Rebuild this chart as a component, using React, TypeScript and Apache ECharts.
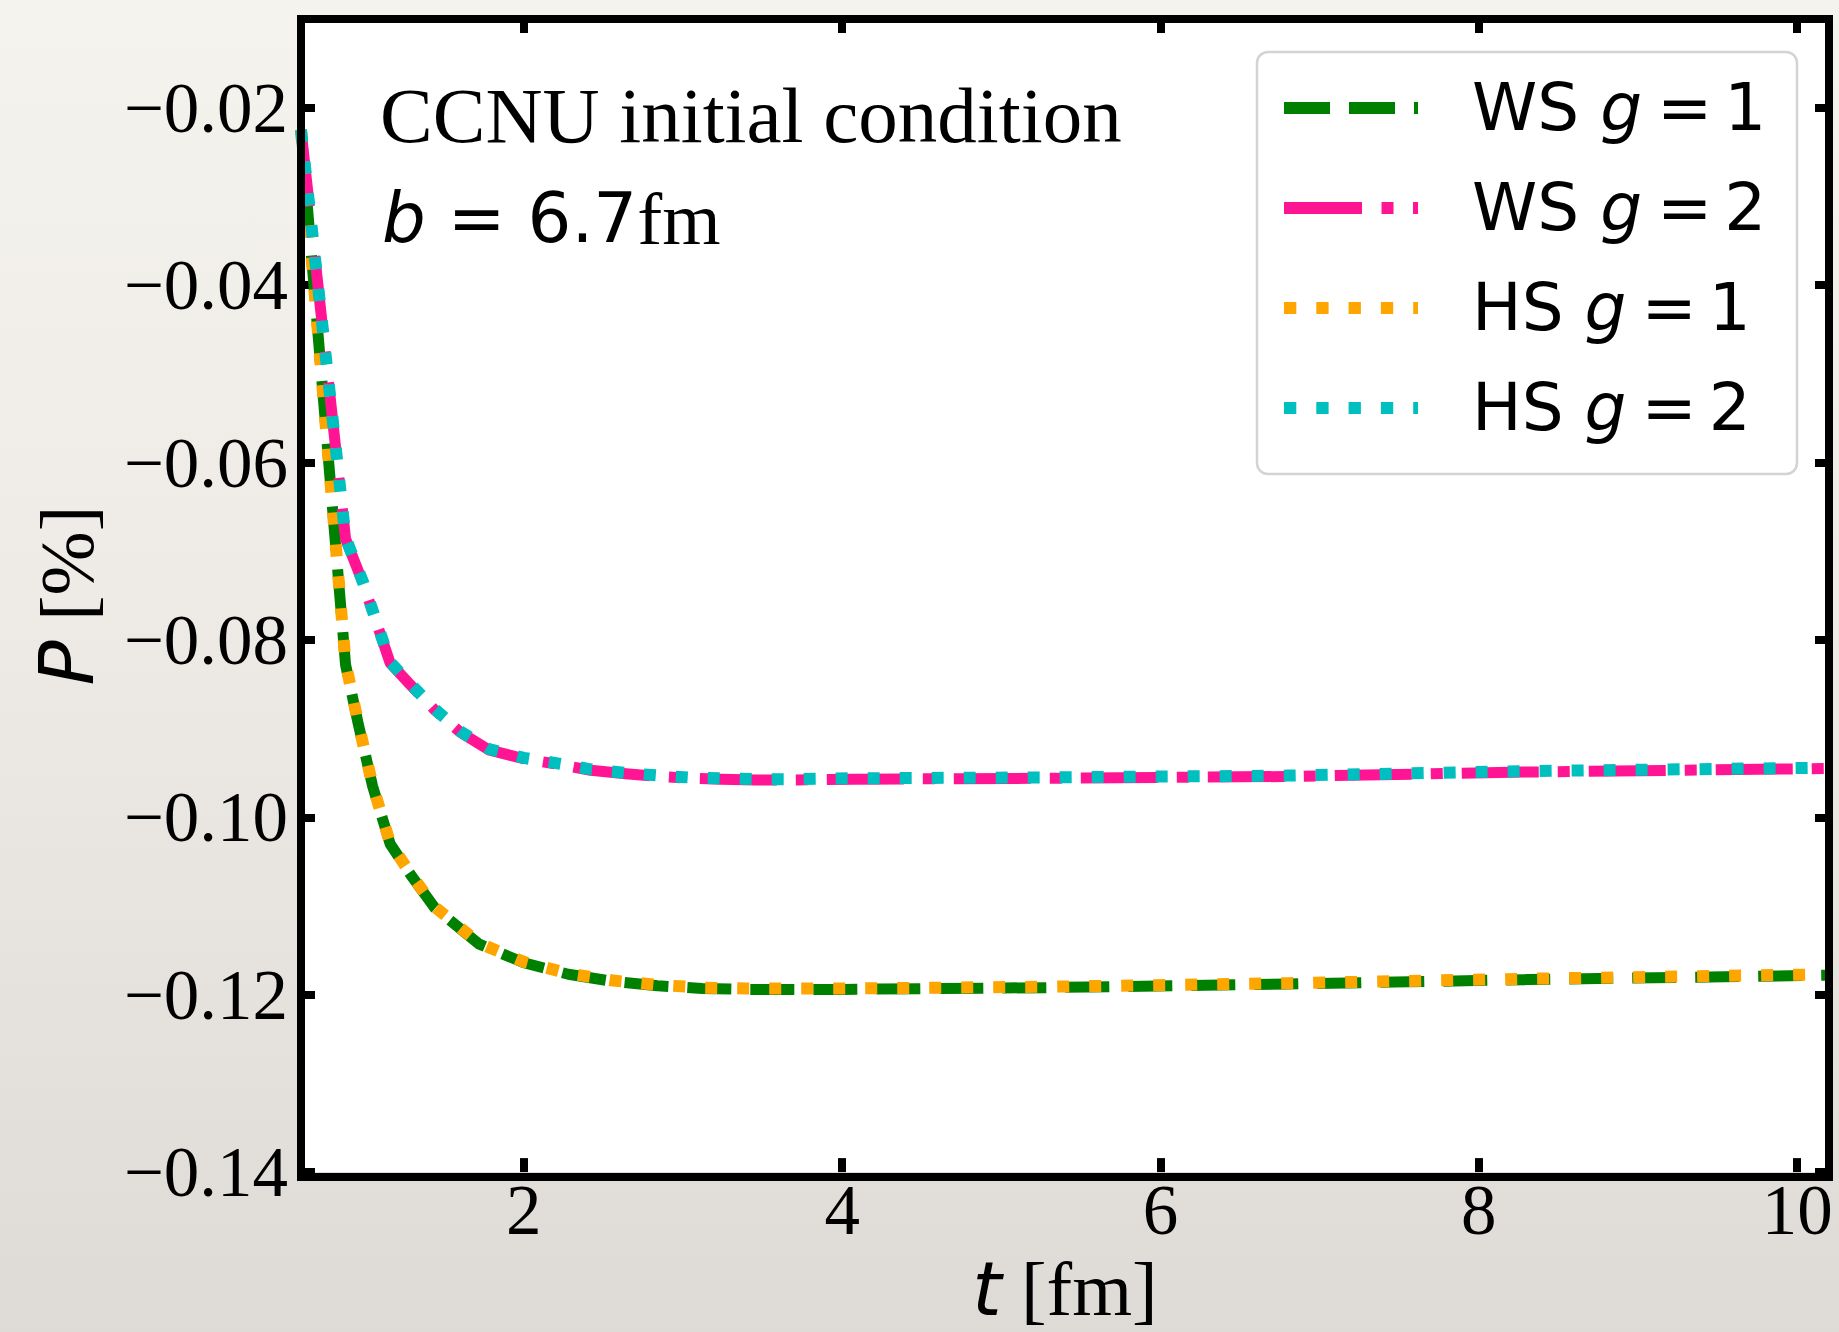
import React, { useEffect, useRef } from 'react';
import * as echarts from 'echarts';

// ---- data ----
const tG1 = [0.6, 0.88, 0.96, 1.05, 1.16, 1.29, 1.44, 1.72, 2.0, 2.28, 2.56, 2.84, 3.12, 3.4, 3.68, 4.0, 5.3, 6.8, 8.3, 10.2];
const wsG1 = [-0.0225, -0.0828, -0.0895, -0.0965, -0.103, -0.1065, -0.1102, -0.1143, -0.1164, -0.1177, -0.1185, -0.119, -0.1193, -0.1194, -0.1194, -0.1194, -0.1192, -0.1188, -0.1183, -0.1178];
const hsG1 = [-0.0225, -0.0826, -0.0894, -0.0964, -0.1029, -0.1064, -0.1101, -0.1142, -0.1163, -0.1176, -0.1184, -0.1189, -0.1192, -0.1193, -0.1193, -0.1193, -0.1191, -0.1187, -0.1182, -0.1177];

const tG2 = [0.6, 0.88, 0.99, 1.16, 1.3, 1.44, 1.6, 1.78, 2.0, 2.24, 2.42, 2.64, 2.85, 3.03, 3.24, 3.46, 3.66, 4.06, 5.33, 6.8, 8.28, 10.2];
const wsG2 = [-0.0225, -0.0686, -0.0736, -0.0826, -0.0853, -0.0879, -0.0904, -0.0924, -0.0934, -0.0941, -0.0947, -0.0951, -0.0954, -0.0956, -0.0957, -0.0958, -0.0958, -0.0957, -0.0956, -0.0954, -0.0949, -0.0945];
const hsG2 = [-0.0225, -0.0685, -0.0735, -0.0825, -0.0852, -0.0878, -0.0903, -0.0923, -0.0933, -0.094, -0.0946, -0.095, -0.0953, -0.0955, -0.0956, -0.0957, -0.0957, -0.0956, -0.0955, -0.0953, -0.0948, -0.0944];

const xTicks = [2, 4, 6, 8, 10];
const yTicks = [-0.14, -0.12, -0.1, -0.08, -0.06, -0.04, -0.02];

const seriesNames = ['WS g = 1', 'WS g = 2', 'HS g = 1', 'HS g = 2'];
const legendPrefix = ['WS', 'WS', 'HS', 'HS'];
const legendG = ['1', '2', '1', '2'];
const annotationLine1 = 'CCNU initial condition';

// ---- styles ----
const COLORS = ['#008000', '#ff1493', '#ffa500', '#00bfbf'];
const PLOT_DASH = [[44, 19], [77, 19, 12, 19], [12, 20], [12, 20]];
const PLOT_WIDTH = [11, 11, 12, 12];
const LEGEND_DASH = [[46, 19], [78, 19.5, 12, 19.5], [12.3, 20], [12.3, 20]];

const GRID = { left: 301, top: 19, width: 1528, height: 1158 };

function pairs(t: number[], v: number[]) {
  return t.map((x, i) => [x, v[i]]);
}

export default function App() {
  const ref = useRef<HTMLDivElement>(null);

  useEffect(() => {
    if (!ref.current) return;
    const chart = echarts.init(ref.current, undefined, { renderer: 'svg' });

    const seriesData = [pairs(tG1, wsG1), pairs(tG2, wsG2), pairs(tG1, hsG1), pairs(tG2, hsG2)];

    const tickStyle = { show: true, inside: true, length: 14, lineStyle: { color: '#000', width: 8 } };

    const legendGraphics: any[] = [
      {
        type: 'rect',
        z: 50,
        silent: true,
        shape: { x: 1257, y: 52, width: 540, height: 422, r: 11 },
        style: { fill: 'rgba(255,255,255,0.8)', stroke: '#d3d3d3', lineWidth: 2.5 },
      },
    ];
    seriesNames.forEach((_, i) => {
      const y = 108 + i * 100;
      legendGraphics.push({
        type: 'line',
        z: 51,
        silent: true,
        shape: { x1: 1284, y1: y, x2: 1418, y2: y },
        style: { stroke: COLORS[i], lineWidth: 12, lineDash: LEGEND_DASH[i], lineCap: 'butt' },
      });
      legendGraphics.push({
        type: 'text',
        z: 51,
        silent: true,
        x: 1472,
        y: y - 1,
        style: {
          text: `{r|${legendPrefix[i]} }{i|g}{e|=}{r|${legendG[i]}}`,
          verticalAlign: 'middle',
          align: 'left',
          rich: {
            r: { fontFamily: 'DejaVu Sans', fontSize: 66, fill: '#000' },
            i: { fontFamily: 'DejaVu Sans', fontStyle: 'italic', fontSize: 66, fill: '#000' },
            e: { fontFamily: 'DejaVu Sans', fontSize: 66, fill: '#000', padding: [0, 12, 0, 15] },
          },
        },
      });
    });

    const option: any = {
      animation: false,
      backgroundColor: 'transparent',
      grid: { ...GRID, show: true, backgroundColor: '#ffffff', borderWidth: 0, containLabel: false },
      xAxis: [
        {
          type: 'value',
          min: 0.6,
          max: 10.2,
          position: 'bottom',
          axisLine: { show: false },
          splitLine: { show: false },
          axisTick: { ...tickStyle, customValues: xTicks },
          axisLabel: {
            show: true,
            customValues: xTicks,
            margin: 2,
            color: '#000',
            fontFamily: 'Liberation Serif',
            fontSize: 71,
            lineHeight: 71,
            formatter: (v: number) => String(v),
          },
          name: '{i|t}{s| [fm]}',
          nameLocation: 'middle',
          nameGap: 77,
          nameTextStyle: {
            rich: {
              i: { fontFamily: 'DejaVu Sans', fontStyle: 'italic', fontSize: 75, lineHeight: 76, color: '#000' },
              s: { fontFamily: 'Liberation Serif', fontSize: 77, lineHeight: 76, color: '#000' },
            },
          },
        },
        {
          type: 'value',
          min: 0.6,
          max: 10.2,
          position: 'top',
          axisLine: { show: false },
          splitLine: { show: false },
          axisTick: { ...tickStyle, customValues: xTicks },
          axisLabel: { show: false },
        },
      ],
      yAxis: [
        {
          type: 'value',
          min: -0.14,
          max: -0.01,
          position: 'left',
          axisLine: { show: false },
          splitLine: { show: false },
          axisTick: { ...tickStyle, customValues: yTicks },
          axisLabel: {
            show: true,
            customValues: yTicks,
            margin: 13,
            color: '#000',
            fontFamily: 'Liberation Serif',
            fontSize: 71,
            lineHeight: 71,
            formatter: (v: number) => '\u2212' + Math.abs(v).toFixed(2),
          },
          name: '{i|P}{s| [%]}',
          nameLocation: 'middle',
          nameRotate: 90,
          nameGap: 196,
          nameTextStyle: {
            rich: {
              i: { fontFamily: 'DejaVu Sans', fontStyle: 'italic', fontSize: 75, lineHeight: 76, color: '#000' },
              s: { fontFamily: 'Liberation Serif', fontSize: 77, lineHeight: 76, color: '#000' },
            },
          },
        },
        {
          type: 'value',
          min: -0.14,
          max: -0.01,
          position: 'right',
          axisLine: { show: false },
          splitLine: { show: false },
          axisTick: { ...tickStyle, customValues: yTicks },
          axisLabel: { show: false },
        },
      ],
      graphic: [
        {
          type: 'rect',
          z: 100,
          silent: true,
          shape: { x: GRID.left, y: GRID.top, width: GRID.width, height: GRID.height },
          style: { fill: 'none', stroke: '#000', lineWidth: 8 },
        },
        {
          type: 'text',
          z: 60,
          silent: true,
          x: 380,
          y: 115,
          style: {
            text: annotationLine1,
            fontFamily: 'Liberation Serif',
            fontSize: 79,
            fill: '#000',
            verticalAlign: 'middle',
            align: 'left',
          },
        },
        {
          type: 'text',
          z: 60,
          silent: true,
          x: 382,
          y: 218,
          style: {
            text: '{i|b}{r| = 6.7}{s|fm}',
            verticalAlign: 'middle',
            align: 'left',
            rich: {
              i: { fontFamily: 'DejaVu Sans', fontStyle: 'italic', fontSize: 69, fill: '#000' },
              r: { fontFamily: 'DejaVu Sans', fontSize: 69, fill: '#000' },
              s: { fontFamily: 'Liberation Serif', fontSize: 75, fill: '#000' },
            },
          },
        },
        ...legendGraphics,
      ],
      series: seriesNames.map((name, i) => ({
        name,
        type: 'line',
        xAxisIndex: 0,
        yAxisIndex: 0,
        data: seriesData[i],
        symbol: 'none',
        showSymbol: false,
        smooth: false,
        clip: true,
        z: 2 + i * 0.1,
        lineStyle: {
          color: COLORS[i],
          width: PLOT_WIDTH[i],
          type: PLOT_DASH[i],
          cap: 'butt',
          join: 'round',
        },
      })),
    };

    chart.setOption(option);
    return () => {
      chart.dispose();
    };
  }, []);

  return (
    <div
      ref={ref}
      style={{
        position: 'absolute',
        left: 0,
        top: 0,
        width: 1839,
        height: 1332,
        background: 'linear-gradient(180deg, #f5f3ee 0%, #eeebe6 45%, #dedbd6 100%)',
      }}
    />
  );
}
